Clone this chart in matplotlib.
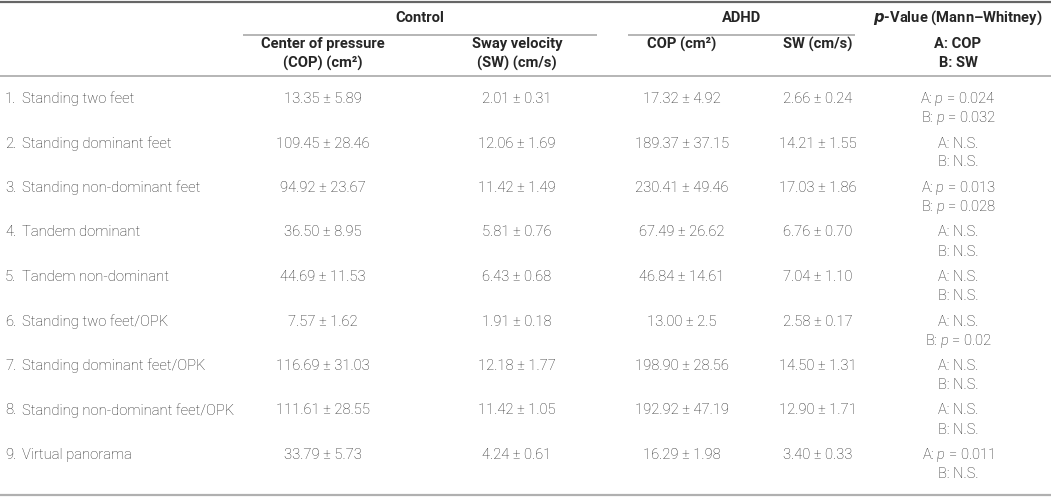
import matplotlib
matplotlib.use('Agg')
import matplotlib.pyplot as plt

plt.rcParams['font.family'] = ['Roboto', 'DejaVu Sans']
plt.rcParams['mathtext.fontset'] = 'custom'
plt.rcParams['mathtext.it'] = 'Roboto:italic:light'
plt.rcParams['mathtext.rm'] = 'Roboto:light'

# table data
row_labels = ['Standing two feet', 'Standing dominant feet', 'Standing non-dominant feet',
              'Tandem dominant', 'Tandem non-dominant', 'Standing two feet/OPK',
              'Standing dominant feet/OPK', 'Standing non-dominant feet/OPK', 'Virtual panorama']
control_cop = ['13.35 ± 5.89', '109.45 ± 28.46', '94.92 ± 23.67', '36.50 ± 8.95', '44.69 ± 11.53',
               '7.57 ± 1.62', '116.69 ± 31.03', '111.61 ± 28.55', '33.79 ± 5.73']
control_sw = ['2.01 ± 0.31', '12.06 ± 1.69', '11.42 ± 1.49', '5.81 ± 0.76', '6.43 ± 0.68',
              '1.91 ± 0.18', '12.18 ± 1.77', '11.42 ± 1.05', '4.24 ± 0.61']
adhd_cop = ['17.32 ± 4.92', '189.37 ± 37.15', '230.41 ± 49.46', '67.49 ± 26.62', '46.84 ± 14.61',
            '13.00 ± 2.5', '198.90 ± 28.56', '192.92 ± 47.19', '16.29 ± 1.98']
adhd_sw = ['2.66 ± 0.24', '14.21 ± 1.55', '17.03 ± 1.86', '6.76 ± 0.70', '7.04 ± 1.10',
           '2.58 ± 0.17', '14.50 ± 1.31', '12.90 ± 1.71', '3.40 ± 0.33']
p_cop = ['0.024', None, '0.013', None, None, None, None, None, '0.011']
p_sw = ['0.032', None, '0.028', None, None, '0.02', None, None, None]

W, H = 1051, 497
fig = plt.figure(figsize=(W / 100, H / 100), dpi=100)
ax = fig.add_axes([0, 0, 1, 1])
ax.set_xlim(0, W)
ax.set_ylim(H, 0)
ax.axis('off')

txt = '#262626'
fs = 10.6
col_x = [323, 517, 682, 818, 958]

# rules
ax.plot([0, W], [1.5, 1.5], color='#666666', lw=1.6, solid_capstyle='butt')
ax.plot([243, 597], [35, 35], color='#b0b0b0', lw=1.3, solid_capstyle='butt')
ax.plot([628, 855], [35, 35], color='#b0b0b0', lw=1.3, solid_capstyle='butt')
ax.plot([0, W], [76, 76], color='#b0b0b0', lw=1.3, solid_capstyle='butt')
ax.plot([0, W], [494.5, 494.5], color='#b0b0b0', lw=1.6, solid_capstyle='butt')

# headers
hkw = dict(ha='center', va='center', fontsize=fs, fontweight='bold', color=txt)
ax.text(420, 18, 'Control', **hkw)
ax.text(742, 18, 'ADHD', **hkw)
ax.text(958, 18, r'$\mathbfit{p}$-Value (Mann–Whitney)', **hkw)
ax.text(323, 44, 'Center of pressure', **hkw)
ax.text(323, 63, '(COP) (cm²)', **hkw)
ax.text(517, 44, 'Sway velocity', **hkw)
ax.text(517, 63, '(SW) (cm/s)', **hkw)
ax.text(682, 44, 'COP (cm²)', **hkw)
ax.text(818, 44, 'SW (cm/s)', **hkw)
ax.text(958, 44, 'A: COP', **hkw)
ax.text(958, 63, 'B: SW', **hkw)

# body
bkw = dict(va='center', fontsize=fs, fontweight='light', color=txt)
y0, dy, sub = 99, 44.5, 19
for i, lab in enumerate(row_labels):
    y = y0 + i * dy
    ax.text(5, y, f'{i + 1}.', ha='left', **bkw)
    ax.text(22, y, lab, ha='left', **bkw)
    for x, vals in zip(col_x[:4], [control_cop, control_sw, adhd_cop, adhd_sw]):
        ax.text(x, y, vals[i], ha='center', **bkw)
    a = 'A: N.S.' if p_cop[i] is None else f'A: $p$ = {p_cop[i]}'
    b = 'B: N.S.' if p_sw[i] is None else f'B: $p$ = {p_sw[i]}'
    ax.text(col_x[4], y, a, ha='center', **bkw)
    ax.text(col_x[4], y + sub, b, ha='center', **bkw)

fig.savefig('out.png', dpi=100)
